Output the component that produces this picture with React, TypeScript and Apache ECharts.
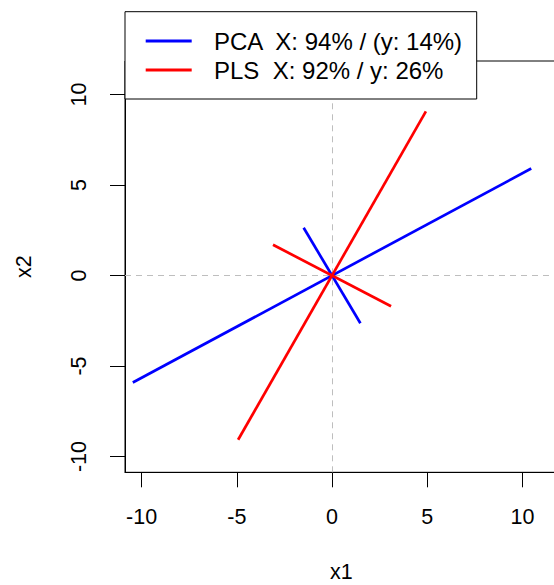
import React, { useEffect, useRef } from "react";
import * as echarts from "echarts";

// ---- data ----
const tickValues = [-10, -5, 0, 5, 10];
const axisMin = -10.87;
const axisMax = 11.85;
const pcaLabel = "PCA  X: 94% / (y: 14%)";
const plsLabel = "PLS  X: 92% / y: 26%";
const pcaLong = [
  [-10.46, -5.91],
  [10.46, 5.91],
];
const pcaShort = [
  [-1.49, 2.64],
  [1.49, -2.64],
];
const plsLong = [
  [-4.93, -9.07],
  [4.93, 9.07],
];
const plsShort = [
  [-3.1, 1.7],
  [3.1, -1.7],
];
const xName = "x1";
const yName = "x2";

const FONT = "Liberation Sans, Arial, Helvetica, sans-serif";
const BLUE = "#0000ff";
const RED = "#ff0000";

export default function App() {
  const ref = useRef<HTMLDivElement>(null);
  useEffect(() => {
    if (!ref.current) return;
    const chart = echarts.init(ref.current, undefined, { renderer: "svg" });
    const axisCommon = (name: string, isY: boolean) => ({
      type: "value",
      min: axisMin,
      max: axisMax,
      name,
      nameLocation: "middle",
      nameGap: isY ? 90.5 : 91.5,
      nameTextStyle: {
        fontSize: 21.5,
        color: "#000",
        fontFamily: FONT,
        lineHeight: isY ? 21.5 : 16,
      },
      axisLine: { show: true, onZero: false, lineStyle: { color: "#000", width: 1 } },
      axisTick: {
        show: true,
        length: 15,
        customValues: tickValues,
        lineStyle: { color: "#000", width: 1 },
      },
      axisLabel: {
        customValues: tickValues,
        fontSize: 21.5,
        color: "#000",
        fontFamily: FONT,
        margin: isY ? 35 : 34,
        rotate: isY ? 90 : 0,
      },
      splitLine: { show: false },
    });
    const lineSeries = (name: string, data: number[][], color: string, extra: any = {}) => ({
      type: "line",
      name,
      data,
      symbol: "none",
      showSymbol: false,
      lineStyle: { color, width: 2.7 },
      itemStyle: { color },
      z: 2,
      ...extra,
    });
    chart.setOption({
      animation: false,
      backgroundColor: "#fff",
      grid: {
        left: 125,
        top: 61,
        width: 432.7,
        height: 411.3,
        outerBoundsMode: "none",
        containLabel: false,
        show: true,
        borderColor: "#000",
        borderWidth: 1,
        backgroundColor: "transparent",
      },
      xAxis: axisCommon(xName, false),
      yAxis: axisCommon(yName, true),
      legend: {
        data: [pcaLabel, plsLabel],
        orient: "vertical",
        left: 125,
        top: 11.7,
        padding: [14.8, 10.7, 14.5, 20.7],
        itemGap: 0,
        itemWidth: 46,
        itemHeight: 3,
        icon: "rect",
        backgroundColor: "#fff",
        borderColor: "#000",
        borderWidth: 1,
        borderRadius: 0,
        selectedMode: false,
        textStyle: {
          fontSize: 24,
          color: "#000",
          fontFamily: FONT,
          lineHeight: 29,
          width: 252,
          padding: [0, 0, 0, 17.3],
        },
      },
      series: [
        lineSeries(pcaLabel, pcaLong, BLUE, {
          markLine: {
            silent: true,
            z: 1,
            symbol: ["none", "none"],
            label: { show: false },
            lineStyle: { color: "#bebebe", type: [6, 5], width: 1 },
            data: [{ xAxis: 0 }, { yAxis: 0 }],
          },
        }),
        lineSeries(pcaLabel, pcaShort, BLUE),
        lineSeries(plsLabel, plsLong, RED),
        lineSeries(plsLabel, plsShort, RED),
      ],
    });
    return () => chart.dispose();
  }, []);
  return (
    <div
      ref={ref}
      style={{ position: "fixed", left: 0, top: 0, width: 554, height: 585, background: "#fff" }}
    />
  );
}
